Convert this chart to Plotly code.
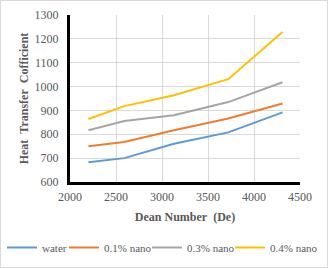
import plotly.graph_objects as go

dean = [2200, 2590, 3130, 3720, 4310]
water = [683, 700, 760, 808, 892]
nano01 = [750, 768, 817, 866, 929]
nano03 = [817, 856, 880, 935, 1018]
nano04 = [864, 918, 964, 1031, 1229]

names = ["water", "0.1% nano", "0.3% nano", "0.4% nano"]
colors = ["#5B9BD5", "#ED7D31", "#A5A5A5", "#FFC000"]
series = [water, nano01, nano03, nano04]

W, H = 328, 268
ml, mr, mt, mb = 70, 28, 15, 86
pw, ph = W - ml - mr, H - mt - mb

FONT = "Liberation Serif, Times New Roman, serif"
GRAY = "#595959"

legend_ids = ["legend", "legend2", "legend3", "legend4"]
legend_px = [2, 64, 147, 230]  # left pixel of each legend entry

fig = go.Figure()
for n, c, s, lid in zip(names, colors, series, legend_ids):
    fig.add_trace(go.Scatter(x=dean, y=s, name=n, mode="lines", legend=lid,
                             line=dict(color=c, width=2)))

leg_layout = {}
for lid, px in zip(legend_ids, legend_px):
    leg_layout[lid] = dict(orientation="h", x=(px - ml) / pw, xanchor="left",
                           y=1 - (233 - mt) / ph, yanchor="top",
                           bgcolor="rgba(0,0,0,0)", borderwidth=0,
                           font=dict(family=FONT, size=11, color=GRAY),
                           itemwidth=30)

fig.update_layout(
    template="none",
    width=W, height=H,
    margin=dict(l=ml, r=mr, t=mt, b=mb, autoexpand=False),
    paper_bgcolor="white", plot_bgcolor="white",
    font=dict(family=FONT, size=12, color=GRAY),
    showlegend=True,
    xaxis=dict(range=[2000, 4500], dtick=500, tick0=2000, automargin=False,
               showgrid=True, gridcolor="#D9D9D9", gridwidth=1,
               showline=True, linecolor="black", linewidth=3,
               zeroline=False, ticks="", ticklabelstandoff=2,
               tickfont=dict(family=FONT, size=12, color=GRAY),
               title=dict(text="<b>Dean Number\u00a0\u00a0(De)</b>", standoff=10,
                          font=dict(family=FONT, size=12, color=GRAY))),
    yaxis=dict(range=[600, 1300], dtick=100, tick0=600, automargin=False,
               showgrid=True, gridcolor="#D9D9D9", gridwidth=1,
               showline=True, linecolor="black", linewidth=3,
               zeroline=False, ticks="", ticklabelstandoff=6,
               tickfont=dict(family=FONT, size=12, color=GRAY),
               title=dict(text="<b>Heat\u00a0\u00a0Transfer\u00a0\u00a0Cofficient</b>", standoff=4,
                          font=dict(family=FONT, size=12, color=GRAY))),
    **leg_layout,
)

fig.add_shape(type="rect", xref="paper", yref="paper",
              x0=(0.5 - ml) / pw, x1=(W - 0.5 - ml) / pw,
              y0=-(mb - 0.5) / ph, y1=1 + (mt - 0.5) / ph,
              line=dict(color="#D9D9D9", width=1), fillcolor="rgba(0,0,0,0)")

fig.write_html("out.html",
               config={"displayModeBar": False},
               post_script="document.body.style.margin='0px';document.body.style.overflow='hidden';")
